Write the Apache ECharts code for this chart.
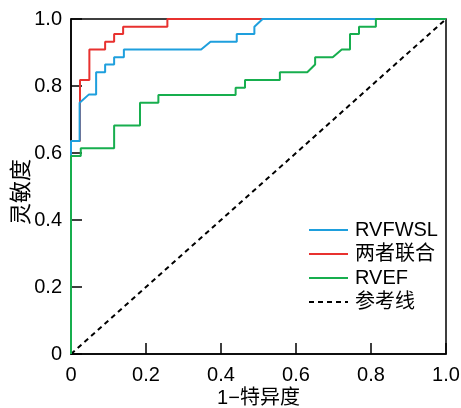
<!DOCTYPE html>
<html>
<head>
<meta charset="utf-8">
<script src="https://cdn.jsdelivr.net/npm/echarts@6/dist/echarts.min.js"></script>
<style>html,body{margin:0;padding:0;background:#fff;}#c{width:461px;height:408px;}</style>
</head>
<body>
<div id="c"></div>
<script>
var tickLabels = ['0', '0.2', '0.4', '0.6', '0.8', '1.0'];
var seriesNames = ['RVFWSL', '两者联合', 'RVEF', '参考线'];

var redX = [0, 0, 0.024, 0.024, 0.049, 0.049, 0.091, 0.091, 0.115, 0.115, 0.139, 0.139, 0.257, 0.257, 1];
var redY = [0, 0.636, 0.636, 0.818, 0.818, 0.909, 0.909, 0.932, 0.932, 0.955, 0.955, 0.977, 0.977, 1, 1];

var blueX = [0, 0, 0.023, 0.023, 0.048, 0.067, 0.067, 0.091, 0.091, 0.115, 0.115, 0.141, 0.141, 0.347, 0.372, 0.442, 0.442, 0.489, 0.489, 0.511, 1];
var blueY = [0, 0.636, 0.636, 0.75, 0.775, 0.775, 0.841, 0.841, 0.864, 0.864, 0.886, 0.886, 0.909, 0.909, 0.932, 0.932, 0.955, 0.955, 0.977, 1, 1];

var greenX = [0, 0, 0.026, 0.026, 0.115, 0.115, 0.184, 0.184, 0.233, 0.233, 0.439, 0.439, 0.464, 0.464, 0.557, 0.557, 0.630, 0.651, 0.651, 0.698, 0.722, 0.744, 0.744, 0.768, 0.768, 0.813, 0.813, 1];
var greenY = [0, 0.591, 0.591, 0.614, 0.614, 0.682, 0.682, 0.75, 0.75, 0.773, 0.773, 0.795, 0.795, 0.818, 0.818, 0.841, 0.841, 0.864, 0.886, 0.886, 0.909, 0.909, 0.955, 0.955, 0.977, 0.977, 1, 1];

var refX = [0, 1];
var refY = [0, 1];

function zip(xs, ys) { return xs.map(function (x, i) { return [x, ys[i]]; }); }

var FONT = '"Liberation Sans", Arial, "Noto Sans CJK SC", sans-serif';
var chart = echarts.init(document.getElementById('c'), null, {renderer: 'canvas'});

function fmt(v) {
  var idx = Math.round(v / 0.2);
  return tickLabels[idx] !== undefined ? tickLabels[idx] : '';
}

var axisCommon = {
  type: 'value', min: 0, max: 1, interval: 0.2,
  axisLine: {show: true, lineStyle: {color: '#000', width: 1.5}},
  axisTick: {show: true, inside: true, length: 11, lineStyle: {color: '#000', width: 1.5}},
  splitLine: {show: false},
  axisLabel: {color: '#000', fontSize: 20, fontFamily: FONT, formatter: fmt},
  nameTextStyle: {color: '#000', fontSize: 20, fontFamily: FONT},
  nameMoveOverlap: false
};

function lineSeries(name, data, color, z, dash) {
  return {
    name: name, type: 'line', data: data, symbol: 'circle', showSymbol: false, z: z,
    silent: true,
    lineStyle: {color: color, width: 2, type: dash || 'solid'},
    itemStyle: {color: color, opacity: 0}
  };
}

chart.setOption({
  animation: false,
  backgroundColor: '#fff',
  grid: {left: 71, right: 15, top: 19, bottom: 54, outerBoundsMode: 'none', containLabel: false,
         show: true, borderColor: '#000', borderWidth: 1.5, backgroundColor: 'transparent'},
  xAxis: Object.assign({}, axisCommon, {
    name: '1−特异度', nameLocation: 'middle', nameGap: 34,
    axisLabel: Object.assign({}, axisCommon.axisLabel, {margin: 11})
  }),
  yAxis: Object.assign({}, axisCommon, {
    name: '灵敏度', nameLocation: 'middle', nameGap: 38,
    nameTextStyle: {color: '#000', fontSize: 22, fontFamily: FONT, padding: [0, 11, 0, 0]},
    axisLabel: Object.assign({}, axisCommon.axisLabel, {margin: 9})
  }),
  legend: {
    orient: 'vertical', left: 303, top: 215,
    data: seriesNames,
    itemWidth: 39, itemHeight: 14, itemGap: 4,
    textStyle: {color: '#000', fontSize: 20, fontFamily: FONT, padding: [0, 0, 0, 2]}
  },
  series: [
    lineSeries(seriesNames[3], zip(refX, refY), '#000', 1, [5, 4]),
    lineSeries(seriesNames[1], zip(redX, redY), '#E8312F', 2),
    lineSeries(seriesNames[0], zip(blueX, blueY), '#1E9FDD', 3),
    lineSeries(seriesNames[2], zip(greenX, greenY), '#17AE4E', 4)
  ]
});
</script>
</body>
</html>
